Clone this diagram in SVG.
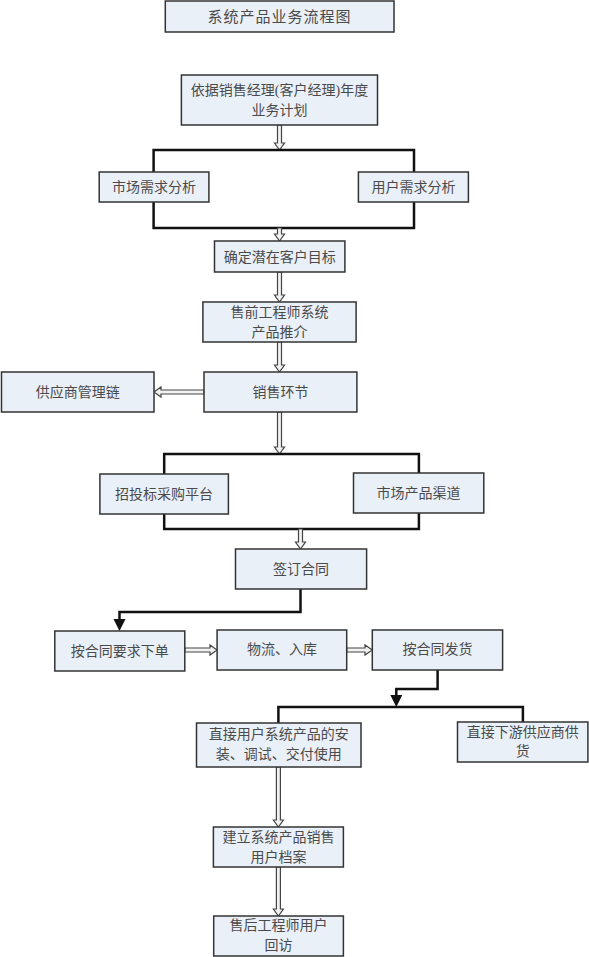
<svg xmlns="http://www.w3.org/2000/svg" width="589" height="957" viewBox="0 0 589 957">
<style>
.box{fill:#eaf0f8;stroke:#333;stroke-width:1.5}
.t{font-family:"Liberation Serif","Noto Sans CJK SC",serif;font-size:14px;fill:#4a4a4a;text-anchor:middle}
.ttl{font-size:15px;letter-spacing:1px}
.line{fill:none;stroke:#111;stroke-width:2.5}
.ha{fill:#f2f2f2;stroke:#444;stroke-width:1.2}
.fa{fill:#111;stroke:none}
</style>
<rect width="589" height="957" fill="#fff"/>
<g id="connectors">
<!-- hollow arrows -->
<polygon class="ha" points="277.5,125 281.5,125 281.5,143 284.5,143 279.5,150 274.5,143 277.5,143"/>
<path class="line" d="M153.6,172 V150 H414 V172"/>
<path class="line" d="M153.6,202 V228 H414 V202"/>
<polygon class="ha" points="277.5,228 281.5,228 281.5,234 284.5,234 279.5,241 274.5,234 277.5,234"/>
<polygon class="ha" points="277.5,272 281.5,272 281.5,295 284.5,295 279.5,302 274.5,295 277.5,295"/>
<polygon class="ha" points="277.5,342 281.5,342 281.5,365 284.5,365 279.5,372 274.5,365 277.5,365"/>
<polygon class="ha" points="204,390 204,394 161,394 161,397 154,392 161,387 161,390"/>
<polygon class="ha" points="277.5,412 281.5,412 281.5,447 284.5,447 279.5,454 274.5,447 277.5,447"/>
<path class="line" d="M164.2,474 V454 H418.9 V473"/>
<path class="line" d="M164.2,514 V529 H418.9 V513"/>
<polygon class="ha" points="298.5,529 302.5,529 302.5,542 305.5,542 300.5,549 295.5,542 298.5,542"/>
<path class="line" d="M300.5,589 V612 H119.5 V620"/>
<polygon class="fa" points="113.5,619 125.5,619 119.5,631"/>
<polygon class="ha" points="184.8,648 210,648 210,645 217,650 210,655 210,652 184.8,652"/>
<polygon class="ha" points="346.7,648 365,648 365,645 372.3,650 365,655 365,652 346.7,652"/>
<path class="line" d="M437.6,670 V689 H396.3 V696"/>
<polygon class="fa" points="390.3,695 402.3,695 396.3,707"/>
<path class="line" d="M278.4,723 V707 H522.9 V722"/>
<polygon class="ha" points="276.4,767 280.4,767 280.4,820 283.4,820 278.4,827 273.4,820 276.4,820"/>
<polygon class="ha" points="276.4,867 280.4,867 280.4,909 283.4,909 278.4,916 273.4,909 276.4,909"/>
</g>
<g id="n-title"><rect class="box" x="165.3" y="1" width="228.7" height="31"/><text class="t ttl" x="279.5" y="21.5">系统产品业务流程图</text></g>
<g id="n-plan"><rect class="box" x="181.4" y="75" width="196.1" height="50"/><text class="t" x="279.5" y="95">依据销售经理(客户经理)年度</text><text class="t" x="279.5" y="115">业务计划</text></g>
<g id="n-market"><rect class="box" x="99.2" y="172" width="109.7" height="30"/><text class="t" x="154" y="192">市场需求分析</text></g>
<g id="n-user"><rect class="box" x="358.4" y="172" width="110" height="30"/><text class="t" x="413.4" y="192">用户需求分析</text></g>
<g id="n-target"><rect class="box" x="214.5" y="241" width="130.4" height="31"/><text class="t" x="279.7" y="261.5">确定潜在客户目标</text></g>
<g id="n-presale"><rect class="box" x="202.9" y="302" width="153.2" height="40"/><text class="t" x="279.5" y="317">售前工程师系统</text><text class="t" x="279.5" y="337">产品推介</text></g>
<g id="n-sales"><rect class="box" x="204" y="372" width="152.9" height="40"/><text class="t" x="280.5" y="397">销售环节</text></g>
<g id="n-supply"><rect class="box" x="1.5" y="372" width="152.5" height="40"/><text class="t" x="77.7" y="397">供应商管理链</text></g>
<g id="n-bid"><rect class="box" x="99.9" y="474" width="128.5" height="40"/><text class="t" x="164" y="499">招投标采购平台</text></g>
<g id="n-channel"><rect class="box" x="353.5" y="473" width="130.3" height="40"/><text class="t" x="418.6" y="498">市场产品渠道</text></g>
<g id="n-contract"><rect class="box" x="235.5" y="549" width="131.1" height="40"/><text class="t" x="301" y="574">签订合同</text></g>
<g id="n-order"><rect class="box" x="54.8" y="631" width="130" height="40"/><text class="t" x="119.8" y="656">按合同要求下单</text></g>
<g id="n-logistics"><rect class="box" x="217.1" y="630" width="129.6" height="40"/><text class="t" x="281.9" y="654">物流、入库</text></g>
<g id="n-ship"><rect class="box" x="372.3" y="630" width="130.3" height="40"/><text class="t" x="437.5" y="654">按合同发货</text></g>
<g id="n-install"><rect class="box" x="196.5" y="723" width="164.5" height="44"/><text class="t" x="278.7" y="739">直接用户系统产品的安</text><text class="t" x="278.7" y="759">装、调试、交付使用</text></g>
<g id="n-downstream"><rect class="box" x="457.5" y="722" width="130.4" height="40"/><text class="t" x="522.7" y="737">直接下游供应商供</text><text class="t" x="522.7" y="756">货</text></g>
<g id="n-archive"><rect class="box" x="213.4" y="827" width="130" height="40"/><text class="t" x="278.4" y="842">建立系统产品销售</text><text class="t" x="278.4" y="862">用户档案</text></g>
<g id="n-visit"><rect class="box" x="213.7" y="916" width="129.7" height="40"/><text class="t" x="278.5" y="930">售后工程师用户</text><text class="t" x="278.5" y="950">回访</text></g>
</svg>
